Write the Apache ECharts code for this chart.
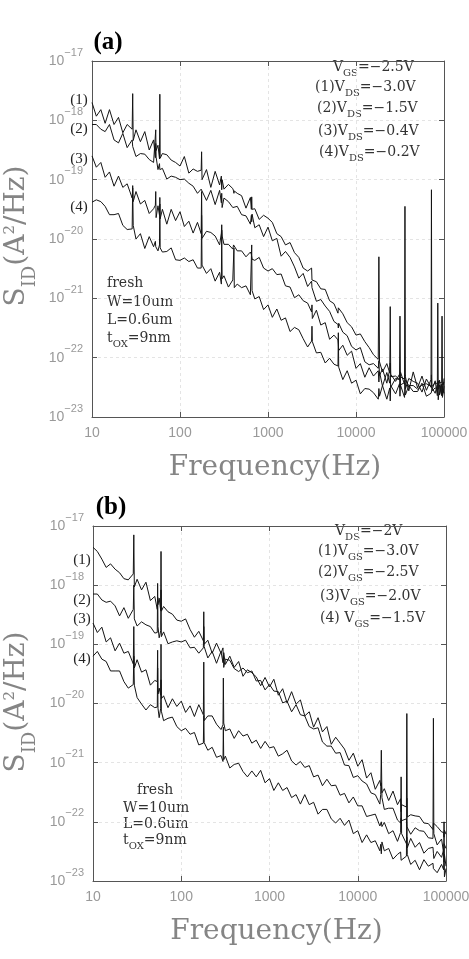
<!DOCTYPE html>
<html>
<head>
<meta charset="utf-8">
<script src="https://cdn.jsdelivr.net/npm/echarts@6/dist/echarts.min.js"></script>
<style>
html, body { margin: 0; padding: 0; background: #fff; }
#main { width: 469px; height: 959px; }
</style>
</head>
<body>
<div id="main"></div>
<script>
// tick labels (y is plotted as log10 of S_ID, so the labels are the exponents)
var xTicks = ['10', '100', '1000', '10000', '100000'];
var yTicks = ['−23', '−22', '−21', '−20', '−19', '−18', '−17'];

// panel (a): frequency grid (Hz) and log10(S_ID) of the four curves
var freqA = [10, 11.2, 12.6, 14.1, 15.8, 17.8, 20, 22.4, 25.1, 28.6,
  29, 29.4, 31.6, 35.5, 39.8, 44.7, 50.1, 52.5, 53, 53.5,
  56.2, 58.5, 59, 59.5, 63.1, 70.8, 79.4, 89.1, 100, 112,
  126, 141, 158, 174, 176, 178, 200, 224, 251, 282,
  295, 298, 301, 316, 355, 398, 406, 410, 414, 447,
  501, 562, 631, 647, 653, 659, 708, 794, 891, 1000,
  1120, 1260, 1410, 1580, 1780, 2000, 2240, 2510, 2820, 3130,
  3160, 3190, 3550, 3980, 4470, 5010, 5620, 6240, 6300, 6360,
  7080, 7940, 8910, 10000, 11200, 12600, 14100, 15800, 17900, 18200,
  18500, 20000, 22400, 24200, 24500, 24800, 28200, 31200, 31600, 32000,
  35600, 36000, 36400, 39800, 44700, 50100, 56200, 63100, 71200, 72000,
  72800, 79400, 84000, 85000, 86000, 89100, 94000, 95000, 96000, 100000];
var a1 = [-17.70, -17.93, -17.82, -18.05, -17.82, -18.07, -17.95, -18.21, -18.07, -18.15,
  -17.55, -18.34, -18.16, -18.36, -18.19, -18.50, -18.33, -18.63, -18.39, -18.51,
  -18.42, -18.65, -17.56, -18.64, -18.56, -18.58, -18.67, -18.71, -18.77, -18.61,
  -18.89, -18.82, -18.86, -18.84, -18.53, -19.00, -18.83, -19.13, -18.86, -19.09,
  -18.94, -19.17, -19.00, -19.16, -19.08, -19.15, -19.19, -19.23, -19.19, -19.23,
  -19.27, -19.48, -19.30, -19.50, -19.29, -19.50, -19.49, -19.67, -19.60, -19.65,
  -19.72, -19.91, -19.96, -20.10, -20.06, -20.23, -20.31, -20.49, -20.54, -20.49,
  -20.69, -20.68, -20.72, -20.84, -20.85, -21.04, -21.09, -21.25, -21.16, -21.17,
  -21.26, -21.41, -21.48, -21.62, -21.60, -21.73, -21.83, -21.95, -22.03, -20.30,
  -22.07, -22.24, -22.10, -22.26, -22.09, -22.32, -22.31, -22.37, -22.32, -22.29,
  -22.36, -19.45, -22.32, -22.56, -22.24, -22.51, -22.31, -22.55, -22.37, -19.17,
  -22.49, -22.42, -22.44, -22.40, -22.41, -22.42, -22.43, -21.30, -22.46, -22.41];
var a2 = [-18.07, -18.07, -18.15, -18.19, -18.07, -18.33, -18.38, -18.22, -18.46, -18.33,
  -18.44, -18.47, -18.61, -18.56, -18.57, -18.66, -18.71, -18.72, -18.16, -18.62,
  -18.83, -18.73, -18.83, -18.83, -18.81, -18.99, -18.94, -18.96, -19.00, -18.99,
  -19.06, -19.11, -19.23, -19.16, -19.15, -19.18, -19.35, -19.18, -19.42, -19.18,
  -19.39, -19.23, -19.47, -19.31, -19.37, -19.47, -19.46, -19.44, -19.44, -19.45,
  -19.59, -19.61, -19.75, -19.60, -19.71, -19.58, -19.81, -19.76, -19.96, -19.80,
  -20.03, -19.99, -20.29, -20.21, -20.31, -20.47, -20.66, -20.58, -20.80, -20.71,
  -20.82, -20.83, -21.05, -21.02, -21.13, -21.22, -21.39, -21.44, -21.50, -21.42,
  -21.57, -21.63, -21.81, -21.87, -21.83, -22.07, -22.12, -22.10, -22.18, -22.05,
  -22.30, -22.19, -22.43, -22.20, -21.14, -22.28, -22.40, -22.28, -22.50, -22.24,
  -22.45, -22.29, -22.53, -22.35, -22.40, -22.43, -22.58, -22.36, -22.50, -22.29,
  -22.56, -22.51, -22.53, -21.08, -22.53, -22.38, -22.64, -22.44, -22.64, -22.35];
var a3 = [-18.60, -18.79, -18.71, -18.96, -18.87, -19.11, -18.94, -19.13, -19.07, -19.31,
  -19.14, -19.37, -19.20, -19.41, -19.35, -19.57, -19.49, -19.43, -19.20, -19.64,
  -19.44, -19.60, -19.41, -19.66, -19.50, -19.75, -19.50, -19.69, -19.54, -19.79,
  -19.70, -19.90, -19.72, -19.91, -19.20, -19.99, -19.87, -19.89, -19.95, -20.10,
  -19.90, -19.76, -19.95, -20.09, -20.09, -20.17, -20.10, -20.11, -20.12, -20.20,
  -20.20, -20.30, -20.22, -20.26, -20.27, -20.34, -20.36, -20.31, -20.49, -20.54,
  -20.50, -20.60, -20.59, -20.79, -20.81, -20.99, -20.94, -21.04, -21.08, -21.23,
  -21.11, -21.34, -21.20, -21.45, -21.41, -21.69, -21.62, -21.70, -21.77, -21.88,
  -21.79, -21.96, -21.89, -22.18, -22.10, -22.33, -22.17, -22.31, -22.22, -22.41,
  -22.24, -22.48, -22.25, -22.43, -22.30, -22.50, -22.35, -22.37, -21.30, -22.46,
  -22.42, -22.42, -22.38, -22.47, -22.47, -22.53, -22.46, -22.44, -22.48, -22.51,
  -22.46, -22.60, -22.45, -22.55, -22.39, -22.63, -22.45, -22.49, -22.49, -22.60];
var a4 = [-19.38, -19.34, -19.37, -19.45, -19.59, -19.59, -19.57, -19.77, -19.84, -19.83,
  -19.10, -19.77, -20.00, -19.91, -20.16, -19.96, -20.13, -20.04, -20.13, -20.14,
  -20.20, -20.10, -19.30, -20.15, -20.22, -20.21, -20.15, -20.35, -20.36, -20.32,
  -20.38, -20.35, -20.49, -20.49, -19.60, -20.44, -20.58, -20.50, -20.71, -20.56,
  -20.76, -19.85, -20.67, -20.62, -20.81, -20.69, -20.69, -20.15, -20.82, -20.76,
  -20.82, -20.79, -20.94, -20.91, -20.10, -20.87, -21.01, -20.97, -21.19, -21.11,
  -21.32, -21.18, -21.37, -21.33, -21.56, -21.49, -21.53, -21.68, -21.82, -21.72,
  -21.47, -21.73, -21.92, -21.91, -22.09, -22.01, -22.11, -22.14, -21.58, -22.16,
  -22.37, -22.22, -22.43, -22.38, -22.61, -22.52, -22.53, -22.59, -22.70, -22.52,
  -22.65, -22.47, -22.70, -22.51, -22.73, -22.47, -22.61, -22.44, -22.65, -22.46,
  -22.67, -22.42, -22.63, -22.47, -22.57, -22.57, -22.43, -22.65, -22.60, -22.58,
  -22.55, -22.39, -22.64, -22.47, -22.71, -22.46, -22.63, -22.47, -22.67, -22.48];

// panel (b)
var freqB = [10, 11.2, 12.6, 14.1, 15.8, 17.8, 20, 22.4, 25.1, 28.6,
  29, 29.4, 31.6, 35.5, 39.8, 44.7, 50.1, 53.5, 54, 54.5,
  56.2, 58.5, 59, 59.5, 63.1, 70.8, 79.4, 89.1, 100, 112,
  126, 141, 158, 178, 180, 182, 200, 224, 251, 282,
  297, 300, 303, 316, 355, 398, 447, 501, 562, 631,
  708, 794, 891, 1000, 1120, 1260, 1410, 1580, 1780, 2000,
  2240, 2510, 2820, 3160, 3550, 3980, 4470, 5010, 5620, 6310,
  7080, 7940, 8910, 10000, 11200, 12600, 14100, 15800, 17800, 18200,
  18500, 18800, 20000, 22400, 25100, 28200, 30600, 31000, 31400, 35600,
  36000, 36400, 39800, 44700, 50100, 56200, 63100, 71200, 72000, 72800,
  79400, 89100, 94000, 95000, 96000, 100000];
var b1 = [-17.36, -17.43, -17.56, -17.70, -17.64, -17.73, -17.79, -17.89, -17.91, -17.81,
  -17.15, -18.03, -17.90, -18.08, -17.95, -18.26, -18.19, -18.41, -18.20, -18.33,
  -18.22, -18.43, -17.43, -18.44, -18.36, -18.45, -18.49, -18.59, -18.61, -18.57,
  -18.75, -18.88, -18.78, -18.94, -18.45, -19.00, -18.93, -19.15, -18.98, -19.15,
  -19.06, -19.27, -19.14, -19.34, -19.20, -19.39, -19.29, -19.54, -19.43, -19.48,
  -19.55, -19.70, -19.56, -19.72, -19.59, -19.86, -19.75, -19.99, -19.80, -20.01,
  -19.94, -20.21, -20.14, -20.40, -20.24, -20.48, -20.39, -20.69, -20.57, -20.67,
  -20.77, -20.96, -20.84, -21.06, -20.95, -21.26, -21.17, -21.45, -21.30, -21.39,
  -21.34, -21.51, -21.44, -21.64, -21.48, -21.71, -21.61, -21.83, -21.71, -21.75,
  -20.17, -21.92, -21.88, -21.90, -21.91, -22.02, -22.03, -22.13, -22.02, -22.05,
  -22.08, -22.17, -22.18, -22.26, -22.14, -22.21];
var b2 = [-18.15, -18.15, -18.25, -18.29, -18.27, -18.35, -18.52, -18.38, -18.56, -18.41,
  -18.00, -18.57, -18.69, -18.62, -18.67, -18.70, -18.81, -18.80, -17.97, -18.70,
  -18.89, -18.77, -18.08, -18.87, -18.79, -18.99, -18.96, -18.94, -18.96, -18.93,
  -19.06, -19.05, -19.15, -19.06, -18.70, -19.04, -19.23, -19.12, -19.32, -19.12,
  -19.31, -19.19, -19.39, -19.25, -19.27, -19.41, -19.46, -19.40, -19.48, -19.45,
  -19.62, -19.61, -19.77, -19.68, -19.79, -19.80, -19.99, -19.96, -20.14, -20.02,
  -20.19, -20.21, -20.39, -20.43, -20.41, -20.65, -20.72, -20.72, -20.84, -20.83,
  -21.04, -21.05, -21.25, -21.22, -21.31, -21.36, -21.51, -21.54, -21.70, -21.54,
  -20.79, -21.59, -21.79, -21.77, -21.77, -21.97, -22.02, -21.94, -21.98, -21.95,
  -22.08, -22.05, -22.21, -22.10, -22.15, -22.16, -22.27, -22.28, -20.25, -22.20,
  -22.39, -22.29, -22.53, -22.37, -22.39, -22.45];
var b3 = [-18.64, -18.80, -18.71, -18.96, -18.89, -19.11, -18.98, -19.15, -19.12, -19.33,
  -18.70, -19.40, -19.26, -19.47, -19.43, -19.69, -19.61, -19.63, -19.10, -19.84,
  -19.74, -19.86, -19.00, -19.92, -19.87, -20.07, -19.92, -20.05, -19.96, -20.15,
  -20.04, -20.22, -20.02, -20.19, -19.30, -20.29, -20.21, -20.21, -20.35, -20.44,
  -20.36, -19.57, -20.33, -20.46, -20.43, -20.59, -20.46, -20.55, -20.52, -20.67,
  -20.62, -20.76, -20.64, -20.75, -20.73, -20.89, -20.85, -20.79, -20.97, -21.04,
  -20.98, -21.08, -21.05, -21.24, -21.21, -21.39, -21.28, -21.39, -21.38, -21.55,
  -21.52, -21.68, -21.58, -21.73, -21.73, -21.91, -21.89, -21.87, -22.07, -22.08,
  -22.00, -22.08, -22.01, -22.20, -22.15, -22.33, -22.18, -21.24, -22.20, -22.37,
  -22.26, -22.44, -22.28, -22.43, -22.35, -22.53, -22.45, -22.43, -22.53, -22.62,
  -22.50, -22.60, -22.47, -22.68, -22.55, -22.75];
var b4 = [-19.20, -19.12, -19.25, -19.29, -19.45, -19.45, -19.45, -19.63, -19.74, -19.68,
  -19.20, -19.69, -19.90, -20.01, -20.11, -20.02, -20.07, -20.06, -19.40, -20.08,
  -20.24, -20.08, -19.60, -20.13, -20.29, -20.25, -20.23, -20.39, -20.46, -20.42,
  -20.52, -20.49, -20.70, -20.67, -20.20, -20.66, -20.79, -20.74, -20.91, -20.88,
  -20.98, -20.40, -20.95, -20.89, -21.09, -21.03, -21.01, -21.15, -21.24, -21.14,
  -21.24, -21.13, -21.34, -21.27, -21.47, -21.34, -21.47, -21.42, -21.59, -21.54,
  -21.70, -21.54, -21.71, -21.67, -21.87, -21.79, -21.79, -21.95, -22.02, -21.94,
  -22.06, -21.97, -22.20, -22.15, -22.35, -22.22, -22.35, -22.32, -22.49, -22.38,
  -22.54, -22.34, -22.49, -22.45, -22.63, -22.55, -22.51, -22.65, -22.64, -22.58,
  -21.60, -22.55, -22.72, -22.65, -22.81, -22.64, -22.75, -22.70, -22.79, -22.76,
  -22.86, -22.72, -22.81, -22.00, -22.93, -22.79];

// text on the panels
var curveTags = ['(1)', '(2)', '(3)', '(4)'];
var notesA = ['V{s|GS}=−2.5V', '(1)V{s|DS}=−3.0V', '(2)V{s|DS}=−1.5V', '(3)V{s|DS}=−0.4V', '(4)V{s|DS}=−0.2V'];
var notesB = ['V{s|DS}=−2V', '(1)V{s|GS}=−3.0V', '(2)V{s|GS}=−2.5V', '(3)V{s|GS}=−2.0V', '(4) V{s|GS}=−1.5V'];
var device = ['fresh', 'W=10um', 'L=0.6um', 't{s|OX}=9nm'];

var SERIF = 'DejaVu Serif';
var frameColor = '#555';
var titleGray = '#858585';

function pairs(freq, exps) {
  return freq.map(function (f, i) { return [f, exps[i]]; });
}

function fmtX(v) {
  return xTicks[Math.round(Math.log10(v)) - 1] || '';
}
function fmtY(v) {
  var t = yTicks[Math.round(v) + 23];
  return t ? '{b|10}{sup|' + t + '}' : '';
}

var gridLine = { show: true, lineStyle: { color: '#e4e4e4', width: 1, type: [3, 3] } };

function xAxes(g) {
  return [{
    gridIndex: g, type: 'log', logBase: 10, min: 10, max: 100000, splitNumber: 4,
    axisLine: { onZero: false, lineStyle: { color: frameColor, width: 1 } },
    axisTick: { inside: true, length: 5, lineStyle: { color: frameColor } },
    minorTick: { show: false },
    splitLine: gridLine,
    axisLabel: { color: '#999', fontFamily: 'Liberation Sans', fontSize: 14, margin: 9, formatter: fmtX },
    name: 'Frequency(Hz)', nameLocation: 'middle', nameGap: 37,
    nameTextStyle: { color: titleGray, fontFamily: SERIF, fontSize: 28, padding: [0, 0, 0, 14] }
  }, {
    gridIndex: g, type: 'log', logBase: 10, min: 10, max: 100000, splitNumber: 4, position: 'top',
    axisLine: { onZero: false, lineStyle: { color: frameColor, width: 1 } },
    axisTick: { inside: true, length: 5, lineStyle: { color: frameColor } },
    axisLabel: { show: false }, splitLine: { show: false }
  }];
}

function yAxes(g) {
  return [{
    gridIndex: g, type: 'value', min: -23, max: -17, interval: 1,
    axisLine: { onZero: false, lineStyle: { color: frameColor, width: 1 } },
    axisTick: { inside: true, length: 5, lineStyle: { color: frameColor } },
    splitLine: gridLine,
    axisLabel: {
      margin: 9, formatter: fmtY,
      rich: {
        b: { color: '#999', fontFamily: 'Liberation Sans', fontSize: 14, lineHeight: 28, verticalAlign: 'middle' },
        sup: { color: '#999', fontFamily: 'Liberation Sans', fontSize: 11, lineHeight: 12, verticalAlign: 'top' }
      }
    }
  }, {
    gridIndex: g, type: 'value', min: -23, max: -17, interval: 1, position: 'right',
    axisLine: { onZero: false, lineStyle: { color: frameColor, width: 1 } },
    axisTick: { inside: true, length: 5, lineStyle: { color: frameColor } },
    axisLabel: { show: false }, splitLine: { show: false }
  }];
}

function curve(name, g, data) {
  return {
    name: name, type: 'line', xAxisIndex: g * 2, yAxisIndex: g * 2, data: data,
    showSymbol: false, symbol: 'none', silent: true,
    lineStyle: { color: '#141414', width: 1 }
  };
}

var richNote = {
  n: { fontFamily: SERIF, fontSize: 14, lineHeight: 14, verticalAlign: 'top', fill: '#333' },
  s: { fontFamily: SERIF, fontSize: 10, lineHeight: 18, verticalAlign: 'bottom', fill: '#333' }
};
// wrap plain parts in {n|...} so every piece is a rich token
function wrap(t) {
  return t.split(/(\{s\|[^}]*\})/).map(function (p) {
    return p === '' ? '' : (p.charAt(0) === '{' ? p : '{n|' + p + '}');
  }).join('');
}
function note(x, yc, t) {
  return {
    type: 'text', x: x, y: yc - 7, silent: true,
    style: { text: wrap(t), rich: richNote, align: 'left', verticalAlign: 'top', textAlign: 'left', textVerticalAlign: 'top' }
  };
}
function tag(x, yc, t, size, weight, color) {
  return {
    type: 'text', x: x, y: yc, silent: true,
    style: {
      text: t, fontFamily: 'Liberation Serif', fontSize: size, fontWeight: weight, fill: color,
      align: 'center', verticalAlign: 'middle', textAlign: 'center', textVerticalAlign: 'middle'
    }
  };
}
// rotated y title S_ID(A^2/Hz)
function yTitle(yc) {
  return {
    type: 'text', x: 21, y: yc, rotation: Math.PI / 2, silent: true,
    style: {
      text: '{b|S}{sub|ID}{b|(A}{sup|2}{b|/Hz)}',
      align: 'center', verticalAlign: 'middle', textAlign: 'center', textVerticalAlign: 'middle',
      rich: {
        b: { fontFamily: SERIF, fontSize: 28, lineHeight: 28, verticalAlign: 'top', fill: titleGray },
        sub: { fontFamily: SERIF, fontSize: 18, lineHeight: 36, verticalAlign: 'bottom', fill: titleGray },
        sup: { fontFamily: SERIF, fontSize: 15, lineHeight: 15, verticalAlign: 'top', fill: titleGray }
      }
    }
  };
}

var graphics = [
  tag(108, 43, '(a)', 25, 'bold', '#000'),
  tag(111, 508, '(b)', 25, 'bold', '#000'),
  yTitle(236),
  yTitle(702)
];
var tagYA = [100, 129, 159, 207];
var tagYB = [560, 600, 619, 659];
curveTags.forEach(function (t, i) {
  graphics.push(tag(79, tagYA[i], t, 15, 'normal', '#222'));
  graphics.push(tag(82, tagYB[i], t, 15, 'normal', '#222'));
});
var noteXA = [333, 315, 317, 318, 319], noteYA = [67, 87, 108, 131, 152];
var noteXB = [335, 318, 318, 320, 320], noteYB = [531, 551, 572, 596, 618];
notesA.forEach(function (t, i) { graphics.push(note(noteXA[i], noteYA[i], t)); });
notesB.forEach(function (t, i) { graphics.push(note(noteXB[i], noteYB[i], t)); });
var devYA = [283, 302, 320, 338], devYB = [790, 808, 824, 840];
device.forEach(function (t, i) {
  graphics.push(note(107, devYA[i], t));
  graphics.push(note(i === 0 ? 137 : 123, devYB[i], t));
});

var chart = echarts.init(document.getElementById('main'));
chart.setOption({
  animation: false,
  backgroundColor: '#fff',
  grid: [
    { left: 92, top: 61, width: 352, height: 356, containLabel: false, outerBoundsMode: 'none' },
    { left: 93, top: 526, width: 353, height: 355, containLabel: false, outerBoundsMode: 'none' }
  ],
  xAxis: xAxes(0).concat(xAxes(1)),
  yAxis: yAxes(0).concat(yAxes(1)),
  series: [
    curve('a1', 0, pairs(freqA, a1)), curve('a2', 0, pairs(freqA, a2)),
    curve('a3', 0, pairs(freqA, a3)), curve('a4', 0, pairs(freqA, a4)),
    curve('b1', 1, pairs(freqB, b1)), curve('b2', 1, pairs(freqB, b2)),
    curve('b3', 1, pairs(freqB, b3)), curve('b4', 1, pairs(freqB, b4))
  ],
  graphic: graphics
});
</script>
</body>
</html>
